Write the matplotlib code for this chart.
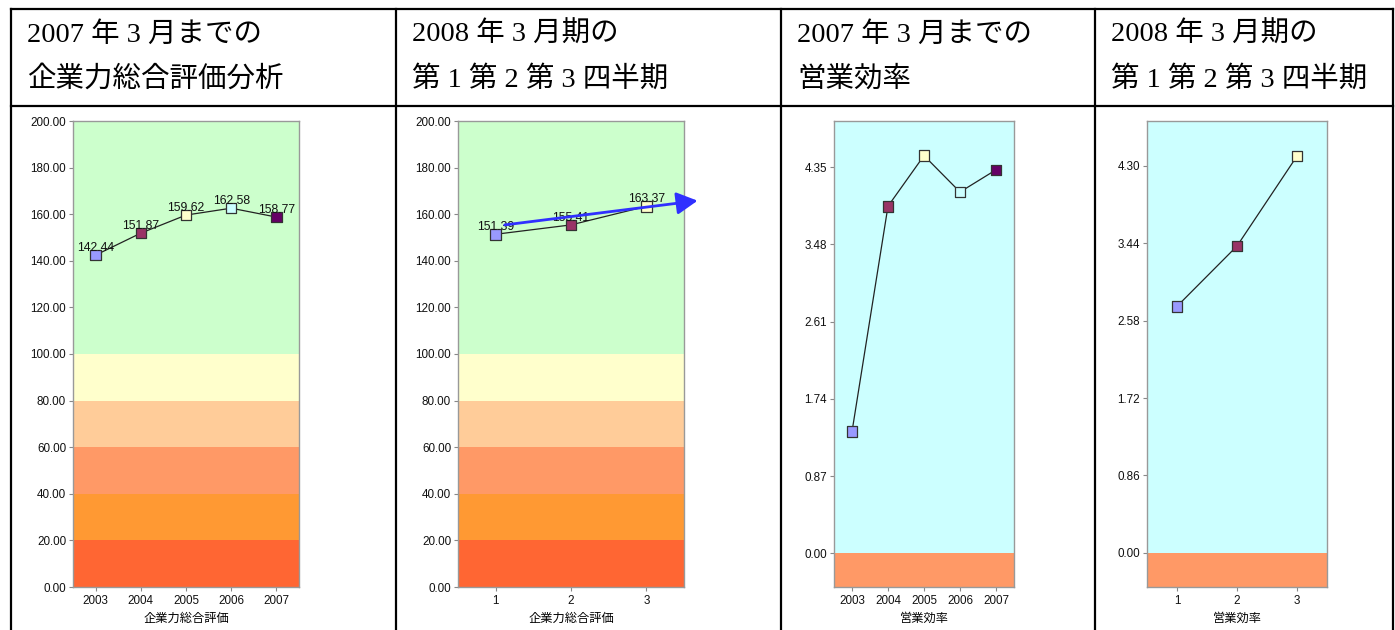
import matplotlib
matplotlib.use("Agg")
import matplotlib.pyplot as plt
from matplotlib.lines import Line2D

# ---------------- data ----------------
years = ["2003", "2004", "2005", "2006", "2007"]
quarters = ["1", "2", "3"]

score_years = [142.44, 151.87, 159.62, 162.58, 158.77]
score_quarters = [151.39, 155.41, 163.37]
eff_years = [1.37, 3.91, 4.48, 4.07, 4.32]
eff_quarters = [2.74, 3.41, 4.41]

score_ticks = [0, 20, 40, 60, 80, 100, 120, 140, 160, 180, 200]
eff_ticks_years = [0.00, 0.87, 1.74, 2.61, 3.48, 4.35]
eff_ticks_quarters = [0.00, 0.86, 1.72, 2.58, 3.44, 4.30]

# rating bands for the total score chart (lower, upper, colour)
score_bands = [(0, 20, "#FF6633"), (20, 40, "#FF9933"), (40, 60, "#FF9966"),
               (60, 80, "#FFCC99"), (80, 100, "#FFFFCC"), (100, 200, "#CCFFCC")]
point_colors = ["#9999FF", "#993366", "#FFFFCC", "#CCFFFF", "#660066"]

headers = [("2007 年 3 月までの", "企業力総合評価分析"),
           ("2008 年 3 月期の", "第 1 第 2 第 3 四半期"),
           ("2007 年 3 月までの", "営業効率"),
           ("2008 年 3 月期の", "第 1 第 2 第 3 四半期")]
xlabels = ["企業力総合評価", "企業力総合評価", "営業効率", "営業効率"]

W, H = 1395, 630
fig = plt.figure(figsize=(W / 100, H / 100), dpi=100)
fig.patch.set_facecolor("white")

TICK_FONT = ["Liberation Sans", "DejaVu Sans"]
CJK_SANS = ["Noto Sans CJK JP", "DejaVu Sans"]
HEAD_FONT = ["Liberation Serif", "Noto Sans CJK JP"]


def px_rect(left, top, right, bottom):
    return [left / W, 1 - bottom / H, (right - left) / W, (bottom - top) / H]


# ---------------- table grid ----------------
col_x = [11, 396, 781, 1095, 1393]
row_y = [9, 106]
for x in col_x:
    fig.add_artist(Line2D([x / W, x / W], [1 - 9 / H, 0], color="black", lw=1.6))
for y in row_y:
    fig.add_artist(Line2D([11 / W, 1393 / W], [1 - y / H, 1 - y / H], color="black", lw=1.6))

for i, (l1, l2) in enumerate(headers):
    x0 = (col_x[i] + 16) / W
    fig.text(x0, 1 - 35 / H, l1, family=HEAD_FONT, fontsize=20.5, va="center", ha="left")
    fig.text(x0, 1 - 79 / H, l2, family=HEAD_FONT, fontsize=20.5, va="center", ha="left")


def style_axes(ax, labels, yticks, fmt, xlabel):
    ax.set_xticks(range(len(labels)))
    ax.set_xticklabels(labels)
    ax.set_xlim(-0.5, len(labels) - 0.5)
    ax.set_yticks(yticks)
    ax.set_yticklabels([fmt % v for v in yticks])
    for s in ax.spines.values():
        s.set_color("#999999")
        s.set_linewidth(1.0)
    ax.tick_params(axis="both", length=3, width=0.8, color="#888888",
                   labelsize=8.4, pad=2, labelcolor="#111111")
    ax.tick_params(axis="x", pad=3)
    for t in ax.get_xticklabels() + ax.get_yticklabels():
        t.set_family(TICK_FONT)
    ax.set_xlabel(xlabel, family=CJK_SANS, fontsize=8.8, labelpad=3)


def draw_series(ax, vals, labels=True):
    xs = list(range(len(vals)))
    ax.plot(xs, vals, color="#222222", lw=0.9, zorder=3)
    ax.scatter(xs, vals, marker="s", s=58, c=point_colors[:len(vals)],
               edgecolors="#333333", linewidths=0.9, zorder=4)
    if labels:
        for x, v in zip(xs, vals):
            ax.annotate("%.2f" % v, (x, v), xytext=(0, 1), textcoords="offset points",
                        ha="center", va="bottom", fontsize=8.8, family=TICK_FONT,
                        color="#111111", zorder=5)


# ---------------- total score panels ----------------
score_sets = [(score_years, years, 73, 299), (score_quarters, quarters, 458, 684)]
score_axes = []
for (vals, cats, left, right), xl in zip(score_sets, xlabels[:2]):
    ax = fig.add_axes(px_rect(left, 121, right, 587))
    for lo, hi, c in score_bands:
        ax.axhspan(lo, hi, color=c, lw=0, zorder=0)
    ax.set_ylim(0, 200)
    draw_series(ax, vals)
    style_axes(ax, cats, score_ticks, "%.2f", xl)
    score_axes.append(ax)

# trend arrow on the quarterly score chart
score_axes[1].annotate("", xy=(2.68, 165.8), xytext=(0.12, 155.4),
                       arrowprops=dict(arrowstyle="-|>,head_length=0.75,head_width=0.4",
                                       color="#3030FF", lw=2.0, mutation_scale=17,
                                       shrinkA=0, shrinkB=0),
                       annotation_clip=False, zorder=6)

# ---------------- operating efficiency panels ----------------
eff_sets = [(eff_years, years, eff_ticks_years, 834, 1014, (-0.38, 4.87)),
            (eff_quarters, quarters, eff_ticks_quarters, 1147, 1327, (-0.38, 4.80))]
for (vals, cats, ticks, left, right, ylim), xl in zip(eff_sets, xlabels[2:]):
    ax = fig.add_axes(px_rect(left, 121, right, 587))
    ax.axhspan(ylim[0], 0, color="#FF9966", lw=0, zorder=0)
    ax.axhspan(0, ylim[1], color="#CCFFFF", lw=0, zorder=0)
    ax.set_ylim(*ylim)
    draw_series(ax, vals, labels=False)
    style_axes(ax, cats, ticks, "%.2f", xl)

fig.savefig("out.png", dpi=100, facecolor="white")
